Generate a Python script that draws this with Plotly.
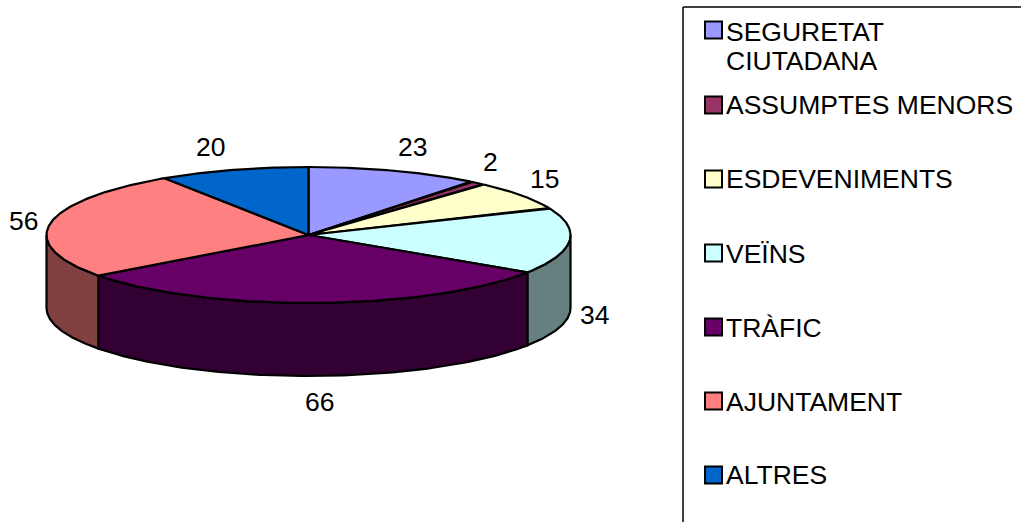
import numpy as np
import plotly.graph_objects as go

# --- data ---
categories = ["SEGURETAT CIUTADANA", "ASSUMPTES MENORS", "ESDEVENIMENTS", "VEÏNS", "TRÀFIC", "AJUNTAMENT", "ALTRES"]
values = [23, 2, 15, 34, 66, 56, 20]
top_colors = ["#9999FF", "#993366", "#FFFFCC", "#CCFFFF", "#660066", "#FF8080", "#0066CC"]
side_colors = ["#4D4D80", "#4D1A33", "#808066", "#668080", "#330033", "#804040", "#003366"]

# --- layout (pixel space of the figure) ---
W, H = 1021, 522
CX, CY, RX, RY, DEPTH = 308.5, 235, 262, 68, 73
FONT = dict(family="Liberation Sans, Arial, sans-serif", size=26.5, color="#000000")
label_xy = [(412, 147), (490, 162), (544, 179), (594, 315), (319, 402), (23, 221), (210, 147)]
legend_y = [30, 105, 179, 253, 327, 401, 475]
legend_lines = [["SEGURETAT", "CIUTADANA"], ["ASSUMPTES MENORS"], ["ESDEVENIMENTS"], ["VEÏNS"], ["TRÀFIC"], ["AJUNTAMENT"], ["ALTRES"]]
legend_text_y = [[32, 61], [105], [179], [254], [328], [402], [475]]


def ell(theta, dz=0.0):
    return CX + RX * np.sin(theta), CY - RY * np.cos(theta) + dz


edges = np.radians(np.concatenate([[0], np.cumsum(values)]) / sum(values) * 360)
BLACK = dict(color="#000000", width=2.2)
fig = go.Figure()

# side walls (only the front half, 90-270 degrees, is visible)
for i, col in enumerate(side_colors):
    a, b = max(edges[i], np.pi / 2), min(edges[i + 1], 3 * np.pi / 2)
    if b <= a:
        continue
    t = np.linspace(a, b, 120)
    x1, y1 = ell(t)
    x2, y2 = ell(t[::-1], DEPTH)
    fig.add_trace(go.Scatter(x=np.r_[x1, x2, x1[0]], y=np.r_[y1, y2, y1[0]], mode="lines",
                             fill="toself", fillcolor=col, line=BLACK, name=categories[i], showlegend=False))

# top face
for i, col in enumerate(top_colors):
    t = np.linspace(edges[i], edges[i + 1], 120)
    x, y = ell(t)
    fig.add_trace(go.Scatter(x=np.r_[CX, x, CX], y=np.r_[CY, y, CY], mode="lines",
                             fill="toself", fillcolor=col, line=BLACK, name=categories[i], showlegend=False))

# legend swatches
fig.add_trace(go.Scatter(x=[713.5] * len(categories), y=legend_y, mode="markers", showlegend=False,
                         marker=dict(symbol="square", size=17, color=top_colors,
                                     line=dict(color="#000000", width=2))))

annotations = []
for v, (x, y) in zip(values, label_xy):
    annotations.append(dict(x=x, y=y, text=str(v), showarrow=False, font=FONT,
                            xanchor="center", yanchor="middle"))
for lines, ys in zip(legend_lines, legend_text_y):
    for line, y in zip(lines, ys):
        annotations.append(dict(x=726, y=y, text=line, showarrow=False, font=FONT,
                                xanchor="left", yanchor="middle", xshift=-2))

fig.update_layout(
    width=W, height=H, autosize=False, margin=dict(l=0, r=0, t=0, b=0),
    paper_bgcolor="#FFFFFF", plot_bgcolor="#FFFFFF", showlegend=False,
    xaxis=dict(range=[0, W], visible=False, fixedrange=True),
    yaxis=dict(range=[H, 0], visible=False, fixedrange=True),
    annotations=annotations,
    shapes=[
        dict(type="line", x0=683, x1=683, y0=7, y1=H, line=dict(color="#000000", width=1.5)),
        dict(type="line", x0=683, x1=W, y0=7, y1=7, line=dict(color="#000000", width=1.5)),
    ],
)
fig.write_html("out.html", config=dict(displayModeBar=False),
               post_script="document.documentElement.style.overflow='hidden';document.body.style.margin='0';document.body.style.overflow='hidden';")
